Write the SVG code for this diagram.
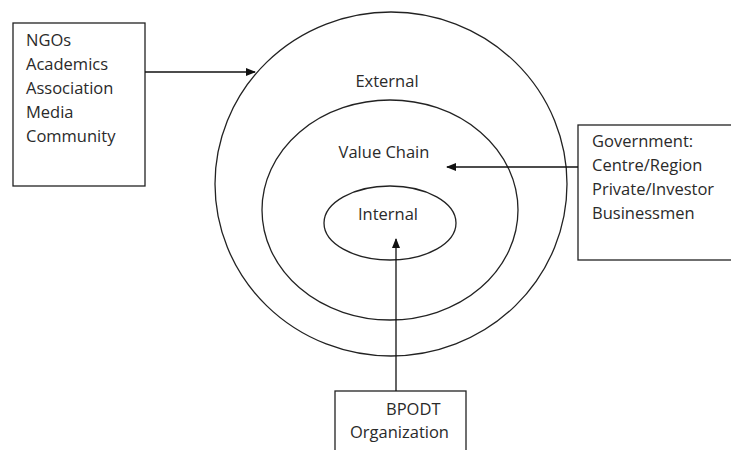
<svg xmlns="http://www.w3.org/2000/svg" width="731" height="450" viewBox="0 0 731 450">
<style>
.shape{fill:none;stroke:#222;stroke-width:1.3}
.box{fill:#fff;stroke:#222;stroke-width:1.3}
.t{font-family:"Open Sans","Liberation Sans",sans-serif;font-size:16.5px;fill:#2a2a2a}
.conn{fill:none;stroke:#111;stroke-width:1.3}
</style>
<defs>
<marker id="arr" markerWidth="10" markerHeight="10" refX="9" refY="5" orient="auto" markerUnits="userSpaceOnUse">
<path d="M0,1 L10,5 L0,9 Z" fill="#111"/>
</marker>
</defs>
<rect width="731" height="450" fill="#fff"/>
<g id="external">
<ellipse class="shape" cx="391" cy="184" rx="176" ry="172"/>
<text class="t" x="387" y="87" text-anchor="middle">External</text>
</g>
<g id="value-chain">
<ellipse class="shape" cx="390" cy="210" rx="128" ry="110"/>
<text class="t" x="384" y="158" text-anchor="middle">Value Chain</text>
</g>
<g id="internal">
<ellipse class="shape" cx="390" cy="223" rx="66" ry="37"/>
<text class="t" x="388" y="220" text-anchor="middle">Internal</text>
</g>
<g id="stakeholders">
<rect class="box" x="13" y="23" width="132" height="163"/>
<text class="t" x="26" y="46">NGOs</text>
<text class="t" x="26" y="70">Academics</text>
<text class="t" x="26" y="94">Association</text>
<text class="t" x="26" y="118">Media</text>
<text class="t" x="26" y="142">Community</text>
</g>
<g id="government">
<rect class="box" x="578" y="125" width="160" height="135"/>
<text class="t" x="592" y="147">Government:</text>
<text class="t" x="592" y="171">Centre/Region</text>
<text class="t" x="592" y="195">Private/Investor</text>
<text class="t" x="592" y="219">Businessmen</text>
</g>
<g id="bpodt">
<rect class="box" x="335" y="391" width="131" height="70"/>
<text class="t" x="386" y="415">BPODT</text>
<text class="t" x="350" y="438">Organization</text>
</g>
<g id="connectors">
<line class="conn" x1="145" y1="72" x2="255" y2="72" marker-end="url(#arr)"/>
<line class="conn" x1="578" y1="167" x2="447" y2="167" marker-end="url(#arr)"/>
<line class="conn" x1="396" y1="391" x2="396" y2="239" marker-end="url(#arr)"/>
</g>
</svg>
